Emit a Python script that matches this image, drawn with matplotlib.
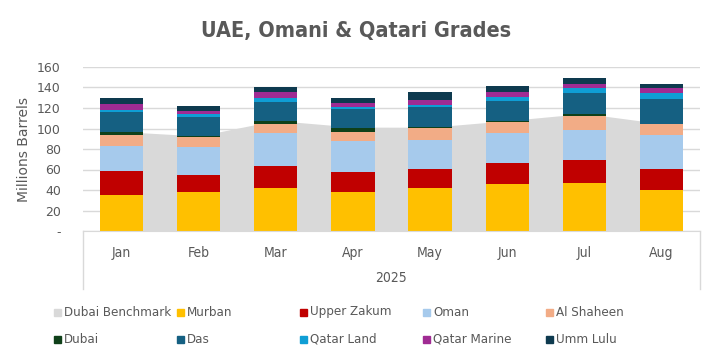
import matplotlib
matplotlib.use('Agg')
import matplotlib.pyplot as plt
from matplotlib.patches import Rectangle
from matplotlib.lines import Line2D
import numpy as np

# Data (millions of barrels)
months = ['Jan', 'Feb', 'Mar', 'Apr', 'May', 'Jun', 'Jul', 'Aug']
year_label = '2025'
dubai_benchmark = [97.0, 92.7, 107.8, 101.4, 101.2, 107.6, 114.7, 104.7]

murban = [35.1, 38.0, 42.0, 38.0, 42.0, 45.9, 46.8, 40.0]
upper_zakum = [23.4, 16.6, 21.4, 19.6, 18.5, 20.4, 22.5, 20.5]
oman = [24.1, 27.4, 32.2, 30.2, 28.3, 29.3, 29.2, 33.2]
al_shaheen = [11.1, 9.7, 8.8, 8.8, 11.7, 10.7, 13.7, 10.7]
dubai = [2.9, 1.3, 2.9, 3.9, 1.0, 1.0, 1.9, 0.0]
das = [19.5, 18.2, 18.6, 18.5, 19.5, 19.5, 20.5, 24.4]
qatar_land = [1.9, 3.2, 4.1, 2.0, 1.9, 3.9, 4.9, 5.8]
qatar_marine = [5.9, 2.7, 5.9, 3.9, 4.9, 4.9, 3.9, 4.9]
umm_lulu = [5.9, 4.9, 4.6, 4.9, 7.8, 5.9, 5.9, 3.9]

series = [
    ('Murban', murban, '#FFC000'),
    ('Upper Zakum', upper_zakum, '#C00000'),
    ('Oman', oman, '#A6CAEC'),
    ('Al Shaheen', al_shaheen, '#F2AC86'),
    ('Dubai', dubai, '#0F4019'),
    ('Das', das, '#156082'),
    ('Qatar Land', qatar_land, '#0F9ED5'),
    ('Qatar Marine', qatar_marine, '#A02B93'),
    ('Umm Lulu', umm_lulu, '#0E3A4F'),
]
bench_color = '#D9D9D9'
text_color = '#595959'
grid_color = '#D9D9D9'

plt.rcParams['font.family'] = ['DejaVu Sans']
# narrow face for title / legend / categories, like the original
narrow = dict(family='DejaVu Sans', stretch='condensed')

fig = plt.figure(figsize=(7.13, 3.58), dpi=100)
ax = fig.add_axes([83 / 713, 127 / 358, 617 / 713, 164 / 358])

x = np.arange(len(months))
ax.fill_between(x, 0, dubai_benchmark, color=bench_color, linewidth=0, zorder=1)

bottom = np.zeros(len(months))
for name, vals, col in series:
    ax.bar(x, vals, bottom=bottom, width=0.56, color=col, linewidth=0, zorder=2)
    bottom += np.array(vals)

ax.set_xlim(-0.5, len(months) - 0.5)
ax.set_ylim(0, 160)
ax.set_yticks(np.arange(0, 161, 20))
ax.set_yticklabels(['-'] + [str(v) for v in range(20, 161, 20)])
ax.yaxis.grid(True, color=grid_color, linewidth=1)
ax.set_axisbelow(True)
for s in ['top', 'right', 'left']:
    ax.spines[s].set_visible(False)
ax.spines['bottom'].set_color(grid_color)
ax.tick_params(axis='both', length=0, labelsize=9, colors=text_color)
ax.tick_params(axis='y', pad=16)
ax.set_xticks(x)
ax.set_xticklabels(months, fontsize=10, **narrow)
ax.tick_params(axis='x', pad=11)
ax.set_ylabel('Millions Barrels', fontsize=10, color=text_color, labelpad=4)

# multi-level category axis: year group + separators
depth = 58 / 164
for xa in (0, 1):
    ax.add_line(Line2D([xa, xa], [0, -depth], transform=ax.transAxes,
                       color=grid_color, linewidth=1, clip_on=False))
ax.text(0.5, -47 / 164, year_label, transform=ax.transAxes, ha='center',
        va='center', fontsize=10, color=text_color, **narrow)

fig.text(0.5, 1 - 31 / 358, 'UAE, Omani & Qatari Grades', ha='center', va='center',
         fontsize=15.5, fontweight='bold', color=text_color, **narrow)

# legend (manual, two rows of five)
legend_items = [('Dubai Benchmark', bench_color)] + [(n, c) for n, _, c in series]
for i, (name, col) in enumerate(legend_items):
    row, colnum = divmod(i, 5)
    px = 54 + colnum * 123
    py = 312 + row * 27.5
    fig.patches.append(Rectangle((px / 713, 1 - (py + 3.5) / 358), 7 / 713, 7 / 358,
                                 transform=fig.transFigure, color=col, figure=fig))
    fig.text((px + 10) / 713, 1 - py / 358, name, ha='left', va='center',
             fontsize=9.5, color=text_color, **narrow)

fig.savefig('out.png', dpi=100)
